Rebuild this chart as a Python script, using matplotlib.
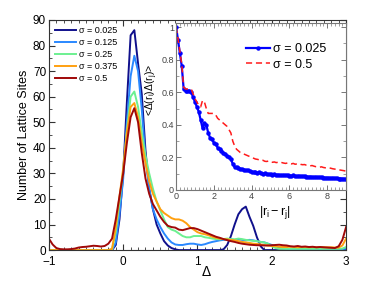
import numpy as np
import matplotlib
matplotlib.use("Agg")
import matplotlib.pyplot as plt
from matplotlib.ticker import MultipleLocator

plt.rcParams["font.family"] = ["Liberation Sans", "DejaVu Sans"]
plt.rcParams["mathtext.fontset"] = "custom"
plt.rcParams["mathtext.rm"] = "Liberation Sans"
plt.rcParams["mathtext.it"] = "Liberation Sans:italic"

# main panel: histogram of Delta, sampled every 0.05 from -1 to 3
delta = np.linspace(-1.0, 3.0, 81)

sig_0025 = [0] * 17 + [0, 2, 12,
            30, 58, 84, 86, 73, 61, 39, 24, 16, 10, 6.5, 3.5, 1.8, 0.8, 0.3, 0] + [0] * 11 + \
           [0.3, 2, 5.5, 10, 14, 16, 17, 13, 9.5, 5, 1.5] + [0] * 23

sig_0125 = [0] * 17 + [0, 3, 14,
            28, 50, 68, 76, 70, 55, 36, 24, 16, 12, 9, 6.5, 4.5, 3, 2.2, 2,
            2, 2.3, 2.5, 2.5, 2.2, 2, 2.3, 2.8, 3.2, 3.5, 3.8,
            4, 4, 4.2, 4, 4.2, 4, 3.8, 4, 3.8, 3.5, 3.2,
            3, 2.5, 2, 1.5, 1, 0.7, 0.5, 0.4, 0.3, 0.3, 0.3, 0.3, 0.3, 0.3, 0.3, 0.3,
            0.3, 0.3, 0.3, 0.3, 0.3, 0.4, 0.6]

sig_025 = [0] * 17 + [0.3, 7, 19,
           31, 47, 60, 62, 56, 46, 37, 30, 24, 19, 15.5, 12, 9, 8, 7.5, 6.5,
           5.5, 5, 5, 5.5, 5.5, 5.5, 5, 4.8, 4.5, 4.3, 4.2,
           4.3, 4.5, 4.3, 4.2, 4.5, 4.3, 4, 3.8, 3.6, 3.5, 3.2,
           3, 2.5, 1.5, 0.8, 0.5, 0.5, 0.5, 0.5, 0.5, 0.5, 0.5, 0.5, 0.5, 0.5, 0.5,
           0.5, 0.5, 0.5, 0.5, 0.5, 0.5, 0.6, 1.2]

sig_0375 = [0] * 17 + [0.5, 9, 21,
            32, 46, 56, 57.5, 52, 42, 34, 27, 22, 19, 16, 14.5, 13.5, 12.5, 12, 12,
            11.5, 10.5, 9, 8, 7, 6.5, 6.2, 5.8, 5.2, 4.8, 4.5,
            4.3, 4.2, 4, 3.8, 3.5, 3.2, 3, 2.8, 2.5, 2.4, 2.2,
            2, 1.8, 1.6, 1.5, 1.3, 1.2, 1.2, 1.3, 1.2, 1.1, 1.2, 1.2, 1.1, 1.2, 1.1,
            1.2, 1.1, 1.1, 1.1, 1.0, 1.0, 1.8, 4.5]

sig_05 = [4.5, 2.2, 0.8, 0.4, 0.3, 0.3, 0.4, 0.6, 1, 1.2, 1.3, 1.5, 1.7, 1.6, 1.4, 1.6, 2.5,
          4.5, 12, 21,
          30, 42, 52, 55.5, 50, 38, 28, 22, 18, 15.5, 13, 11, 9.5, 9, 8.8, 8,
          7.8, 8.2, 8.6, 8.6, 8.2, 7.6, 7, 6.4, 5.8, 5.2, 4.8,
          4.3, 3.9, 3.5, 3.2, 2.8, 2.5, 2.3, 2.1, 2, 1.9, 1.9,
          1.8, 1.8, 1.9, 2.0, 2.1, 1.9, 1.8, 1.5, 1.4, 1.6, 1.3, 1.4, 1.2, 1.3, 1.1,
          1.2, 1.1, 1.0, 0.9, 0.8, 1.5, 4, 9]

main_series = [
    ("σ = 0.025", sig_0025, "#10108c"),
    ("σ = 0.125", sig_0125, "#2a88ff"),
    ("σ = 0.25", sig_025, "#6cf090"),
    ("σ = 0.375", sig_0375, "#ffa010"),
    ("σ = 0.5", sig_05, "#a00808"),
]

# inset: correlation vs distance, every 0.1 from 0 to 9
dist = np.linspace(0.0, 9.0, 91)

corr_0025 = [1.00, 0.92, 0.84, 0.76, 0.62, 0.61, 0.61, 0.61, 0.60, 0.57,
             0.54, 0.51, 0.48, 0.43, 0.38, 0.41, 0.40, 0.35, 0.32, 0.31,
             0.29, 0.28, 0.26, 0.25, 0.24, 0.23, 0.22, 0.21, 0.20, 0.19,
             0.16, 0.14, 0.14, 0.135, 0.13, 0.128, 0.125, 0.12, 0.12, 0.115,
             0.113, 0.11, 0.108, 0.105, 0.108, 0.102, 0.10, 0.103, 0.098, 0.096,
             0.098, 0.094, 0.095, 0.092, 0.094, 0.091, 0.09, 0.092, 0.089, 0.09,
             0.088, 0.087, 0.089, 0.086, 0.085, 0.087, 0.084, 0.083, 0.084, 0.082,
             0.081, 0.082, 0.08, 0.079, 0.08, 0.078, 0.077, 0.078, 0.076, 0.075,
             0.075, 0.074, 0.073, 0.074, 0.072, 0.071, 0.07, 0.07, 0.069, 0.068,
             0.067]

corr_05 = [1.00, 0.93, 0.85, 0.77, 0.63, 0.62, 0.62, 0.62, 0.62, 0.59,
           0.56, 0.54, 0.52, 0.51, 0.55, 0.54, 0.50, 0.47, 0.47, 0.47,
           0.47, 0.46, 0.44, 0.43, 0.42, 0.41, 0.40, 0.39, 0.37, 0.35,
           0.30, 0.27, 0.25, 0.24, 0.23, 0.225, 0.22, 0.215, 0.21, 0.205,
           0.20, 0.195, 0.19, 0.188, 0.185, 0.18, 0.182, 0.176, 0.175, 0.178,
           0.172, 0.17, 0.172, 0.168, 0.17, 0.166, 0.168, 0.165, 0.163, 0.166,
           0.162, 0.16, 0.163, 0.158, 0.16, 0.162, 0.157, 0.155, 0.156, 0.152,
           0.15, 0.148, 0.15, 0.146, 0.143, 0.142, 0.14, 0.142, 0.138, 0.136,
           0.135, 0.136, 0.133, 0.13, 0.128, 0.126, 0.124, 0.122, 0.12, 0.118,
           0.115]

inset_yticks = [0, 0.2, 0.4, 0.6, 0.8, 1.0]
inset_yticklabels = ["0", "0.2", "0.4", "0.6", "0.8", "1"]


fig = plt.figure(figsize=(3.82, 2.81), dpi=100)
ax = fig.add_axes([0.128, 0.110, 0.778, 0.819])

for label, vals, col in main_series:
    ax.plot(delta, vals, color=col, lw=1.4, label=label)

ax.set_xlim(-1, 3)
ax.set_ylim(0, 90)
ax.xaxis.set_major_locator(MultipleLocator(1))
ax.xaxis.set_minor_locator(MultipleLocator(0.1))
ax.yaxis.set_major_locator(MultipleLocator(10))
ax.yaxis.set_minor_locator(MultipleLocator(5))
ax.tick_params(which="both", direction="in", top=True, right=True,
               labelsize=8.5, color="#333333")
ax.tick_params(axis="x", pad=4)
ax.tick_params(axis="y", pad=2)
ax.tick_params(which="major", length=4.5, width=0.8)
ax.tick_params(which="minor", length=2.3, width=0.6)
for s in ax.spines.values():
    s.set_color("#333333")
ax.set_xlabel("Δ", fontsize=10, va="center")
ax.xaxis.set_label_coords(0.53, -0.095)
ax.set_ylabel("Number of Lattice Sites", fontsize=9, labelpad=2)
ax.legend(loc="upper left", frameon=False, fontsize=6.5, handlelength=2.3,
          labelspacing=0.32, handletextpad=0.3, borderaxespad=0.3)

# inset
axi = fig.add_axes([0.461, 0.324, 0.445, 0.594])
axi.set_facecolor("white")
axi.plot(dist, corr_0025, color="#0000ff", lw=1.6, marker="o", ms=2.2,
         label="σ = 0.025")
axi.plot(dist, corr_05, color="#ff1a1a", lw=1.1, dashes=(4, 2.5),
         label="σ = 0.5")
axi.set_xlim(0, 9)
axi.set_ylim(0, 1.025)
axi.xaxis.set_major_locator(MultipleLocator(2))
axi.xaxis.set_minor_locator(MultipleLocator(0.2))
axi.set_yticks(inset_yticks)
axi.set_yticklabels(inset_yticklabels)
axi.yaxis.set_minor_locator(MultipleLocator(0.1))
axi.tick_params(which="both", direction="in", top=True, right=True,
                labelsize=6.5, pad=1.5, color="#777777", labelcolor="#444444")
axi.tick_params(which="major", length=3.5, width=0.7)
axi.tick_params(which="minor", length=2, width=0.5)
for s in axi.spines.values():
    s.set_color("#777777")
axi.text(0.58, -0.135, r"|$\mathregular{r_i - r_j}$|", transform=axi.transAxes,
         fontsize=9, ha="center", va="center")
axi.text(-0.145, 0.6, r"<Δ($\mathregular{r_i}$)Δ($\mathregular{r_j}$)>",
         transform=axi.transAxes, fontsize=7.5, rotation=90,
         ha="center", va="center")
axi.legend(loc="upper left", bbox_to_anchor=(0.41, 0.88), frameon=False,
           fontsize=9, handlelength=1.9, labelspacing=0.3, handletextpad=0.25,
           borderpad=0, borderaxespad=0)

fig.savefig("out.png", dpi=100)
